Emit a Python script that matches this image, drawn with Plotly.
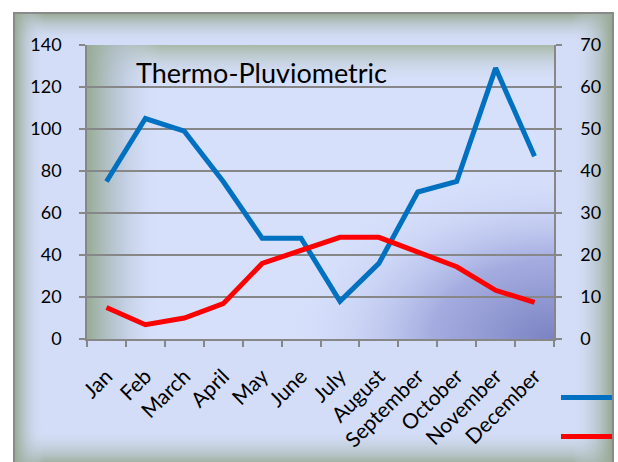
import base64
import plotly.graph_objects as go

months = ["Jan", "Feb", "March", "April", "May", "June", "July", "August",
          "September", "October", "November", "December"]
precipitation = [75, 105, 99, 75, 48, 48, 18, 36, 70, 75, 129, 87]
temperature = [7.5, 3.4, 5, 8.4, 18, 21, 24.2, 24.2, 20.7, 17.2, 11.6, 8.7]
left_ticks = [0, 20, 40, 60, 80, 100, 120, 140]
right_ticks = [0, 10, 20, 30, 40, 50, 60, 70]
series_names = ["Precipitation", "Temperature"]
series_colors = ["#0070c0", "#ff0000"]

W, H = 618, 462
PL, PR, PT, PB = 87, 554, 45, 339  # plot area in px

svg = f'''<svg xmlns="http://www.w3.org/2000/svg" width="{W}" height="{H}" viewBox="0 0 {W} {H}" preserveAspectRatio="none">
<defs>
<linearGradient id="fl" gradientUnits="userSpaceOnUse" x1="14" y1="0" x2="44" y2="0">
<stop offset="0" stop-color="#96a891" stop-opacity="1"/><stop offset="1" stop-color="#d4ddf8" stop-opacity="0"/></linearGradient>
<linearGradient id="ft" gradientUnits="userSpaceOnUse" x1="0" y1="13" x2="0" y2="44">
<stop offset="0" stop-color="#96a891" stop-opacity="1"/><stop offset="1" stop-color="#d4ddf8" stop-opacity="0"/></linearGradient>
<linearGradient id="fr" gradientUnits="userSpaceOnUse" x1="612" y1="0" x2="572" y2="0">
<stop offset="0" stop-color="#96a891" stop-opacity="1"/><stop offset="1" stop-color="#d4ddf8" stop-opacity="0"/></linearGradient>
<linearGradient id="fb" gradientUnits="userSpaceOnUse" x1="0" y1="466" x2="0" y2="428">
<stop offset="0" stop-color="#96a891" stop-opacity="1"/><stop offset="1" stop-color="#d4ddf8" stop-opacity="0"/></linearGradient>
<linearGradient id="pl" gradientUnits="userSpaceOnUse" x1="{PL}" y1="0" x2="{PL+75}" y2="0">
<stop offset="0" stop-color="#97ab94" stop-opacity="1"/><stop offset="0.45" stop-color="#b4c2cf" stop-opacity="0.7"/><stop offset="1" stop-color="#d6e0fb" stop-opacity="0"/></linearGradient>
<linearGradient id="pt" gradientUnits="userSpaceOnUse" x1="0" y1="{PT}" x2="0" y2="{PT+40}">
<stop offset="0" stop-color="#a3b49f" stop-opacity="0.9"/><stop offset="1" stop-color="#d6e0fb" stop-opacity="0"/></linearGradient>
<radialGradient id="pr" gradientUnits="userSpaceOnUse" cx="{PR}" cy="{PB}" r="270" gradientTransform="translate({PR} {PB}) scale(1 0.65) translate(-{PR} -{PB})">
<stop offset="0" stop-color="#7a82c2" stop-opacity="1"/><stop offset="0.45" stop-color="#9aa2da" stop-opacity="0.85"/><stop offset="1" stop-color="#d6e0fb" stop-opacity="0"/></radialGradient>
</defs>
<rect x="14" y="13" width="599" height="460" fill="#d4ddf8"/>
<rect x="14" y="13" width="599" height="460" fill="url(#ft)"/>
<rect x="14" y="13" width="599" height="460" fill="url(#fb)"/>
<rect x="14" y="13" width="32" height="460" fill="url(#fl)"/>
<rect x="570" y="13" width="43" height="460" fill="url(#fr)"/>
<rect x="14" y="13" width="599" height="460" fill="none" stroke="#8a8a8a" stroke-width="2"/>
<rect x="{PL}" y="{PT}" width="{PR-PL}" height="{PB-PT}" fill="#d6e0fb"/>
<rect x="{PL}" y="{PT}" width="{PR-PL}" height="{PB-PT}" fill="url(#pr)"/>
<rect x="{PL}" y="{PT}" width="{PR-PL}" height="{PB-PT}" fill="url(#pt)"/>
<rect x="{PL}" y="{PT}" width="{PR-PL}" height="{PB-PT}" fill="url(#pl)"/>
</svg>'''
img_src = "data:image/svg+xml;base64," + base64.b64encode(svg.encode()).decode()

FONT = "Lato, 'Open Sans', sans-serif"

fig = go.Figure()
fig.add_trace(go.Scatter(x=months, y=precipitation, name=series_names[0], mode="lines",
                         line=dict(color=series_colors[0], width=5), yaxis="y"))
fig.add_trace(go.Scatter(x=months, y=temperature, name=series_names[1], mode="lines",
                         line=dict(color=series_colors[1], width=5), yaxis="y2"))

# legend swatches (legend text lies outside the visible chart area in the original)
legend_shapes = []
for i, c in enumerate(series_colors):
    yy = 1 - (397.5 + i * 39) / H
    legend_shapes.append(dict(type="line", xref="paper", yref="paper", x0=561 / W, x1=612 / W,
                              y0=yy, y1=yy, line=dict(color=c, width=5)))

grid = "#878787"
fig.update_layout(
    width=W, height=H, margin=dict(l=0, r=0, t=0, b=0, autoexpand=False),
    paper_bgcolor="white", plot_bgcolor="rgba(0,0,0,0)",
    font=dict(family=FONT, size=18, color="#000000"),
    images=[dict(source=img_src, xref="paper", yref="paper", x=0, y=1, sizex=1, sizey=1,
                 xanchor="left", yanchor="top", sizing="stretch", layer="below")],
    xaxis=dict(domain=[PL / W, PR / W], range=[-0.5, 11.5], showgrid=False, showline=True,
               linecolor=grid, linewidth=1.5,
               ticks="outside", tickson="boundaries", ticklen=6, tickcolor=grid, tickwidth=1.5,
               tickangle=-45, tickfont=dict(size=21), ticklabelstandoff=15,
               fixedrange=True, automargin=False),
    yaxis=dict(domain=[1 - PB / H, 1 - PT / H], range=[0, 140], tickvals=left_ticks,
               showgrid=True, gridcolor=grid, gridwidth=1.5, showline=True, linecolor=grid,
               linewidth=1.5, ticks="outside", ticklen=6, tickcolor=grid, tickwidth=1.5,
               zeroline=False, tickfont=dict(size=18), ticklabelstandoff=14, automargin=False),
    yaxis2=dict(overlaying="y", side="right", range=[0, 70], tickvals=right_ticks,
                showgrid=False, showline=True, linecolor=grid, linewidth=1.5, ticks="outside",
                ticklen=6, tickcolor=grid, tickwidth=1.5, zeroline=False, tickfont=dict(size=18),
                ticklabelstandoff=15, automargin=False),
    showlegend=False,
    shapes=legend_shapes,
    annotations=[dict(text="Thermo-Pluviometric", xref="paper", yref="paper", x=134 / W,
                      y=1 - 72 / H, xanchor="left", yanchor="middle", showarrow=False,
                      font=dict(size=27, family=FONT, color="#000000"))],
)

fig.write_html("out.html", post_script="document.body.style.margin='0';",
               config={"displayModeBar": False})
